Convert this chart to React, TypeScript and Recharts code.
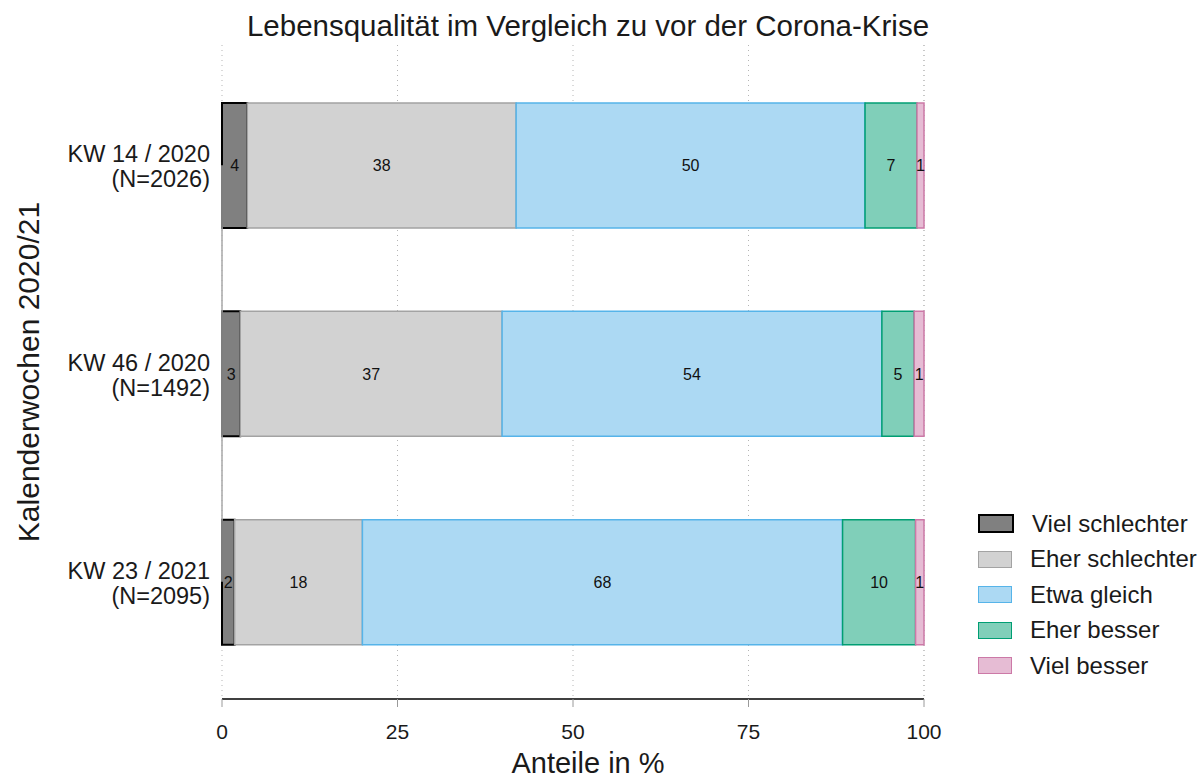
import React from 'react';
import {
  BarChart,
  Bar,
  XAxis,
  YAxis,
  CartesianGrid,
  Legend,
  LabelList,
  ReferenceLine
} from 'recharts';

// Kalenderwochen (Kategorien) und Fallzahlen
const weeks = ['KW 14 / 2020', 'KW 46 / 2020', 'KW 23 / 2021'];
const sampleSizes = ['(N=2026)', '(N=1492)', '(N=2095)'];

// Anteile in % je Antwortkategorie
const vielSchlechter = [3.6, 2.6, 1.8];
const eherSchlechter = [38.3, 37.3, 18.2];
const etwaGleich = [49.7, 54.1, 68.4];
const eherBesser = [7.4, 4.6, 10.4];
const vielBesser = [1.0, 1.4, 1.2];

const xTicks = [0, 25, 50, 75, 100];

const series = [
  { key: 'vielSchlechter', name: 'Viel schlechter', fill: '#808080', stroke: '#000000', width: 2 },
  { key: 'eherSchlechter', name: 'Eher schlechter', fill: '#d2d2d2', stroke: '#a3a3a3', width: 1.5 },
  { key: 'etwaGleich', name: 'Etwa gleich', fill: '#acd9f3', stroke: '#56b4e9', width: 1.5 },
  { key: 'eherBesser', name: 'Eher besser', fill: '#80cfb9', stroke: '#009e73', width: 1.5 },
  { key: 'vielBesser', name: 'Viel besser', fill: '#e6bcd4', stroke: '#cc79a7', width: 1.5 }
];

const data = weeks.map((kw, i) => ({
  kw,
  vielSchlechter: vielSchlechter[i],
  eherSchlechter: eherSchlechter[i],
  etwaGleich: etwaGleich[i],
  eherBesser: eherBesser[i],
  vielBesser: vielBesser[i]
}));

const FONT = '"Liberation Sans", Arial, Helvetica, sans-serif';

const WeekTick = (props: any) => {
  const { x, y, payload } = props;
  const i = weeks.indexOf(payload.value);
  return (
    <text x={x} y={y} textAnchor="end" fontSize={23.5} fill="#1a1a1a" fontFamily={FONT}>
      <tspan x={x} dy={-3}>{payload.value}</tspan>
      <tspan x={x} dy={25}>{sampleSizes[i]}</tspan>
    </text>
  );
};

const LegendBox = () => (
  <div style={{ fontFamily: FONT }}>
    {series.map((s) => (
      <div key={s.key} style={{ display: 'flex', alignItems: 'center', height: 35.5 }}>
        <span
          style={{
            display: 'inline-block',
            width: 32,
            height: 15,
            background: s.fill,
            border: `${s.width}px solid ${s.stroke}`,
            marginRight: 18
          }}
        />
        <span style={{ fontSize: 24, color: '#1a1a1a' }}>{s.name}</span>
      </div>
    ))}
  </div>
);

export default function App() {
  return (
    <div style={{ position: 'absolute', left: 0, top: 0, width: 1204, height: 780, background: '#fff', fontFamily: FONT }}>
      <div
        style={{
          position: 'absolute',
          top: 8,
          left: 588 - 400,
          width: 800,
          textAlign: 'center',
          fontSize: 29.5,
          color: '#1a1a1a',
          lineHeight: '36px'
        }}
      >
        Lebensqualität im Vergleich zu vor der Corona-Krise
      </div>
      <BarChart
        width={1204}
        height={780}
        data={data}
        layout="vertical"
        margin={{ top: 45, right: 280, bottom: 0, left: 0 }}
        style={{ fontFamily: FONT }}
      >
        <CartesianGrid horizontal={false} stroke="#b5b5b5" strokeDasharray="1 4" />
        <XAxis
          type="number"
          domain={[0, 100]}
          ticks={xTicks}
          height={81}
          axisLine={{ stroke: '#000', strokeWidth: 1.5 }}
          tickLine={{ stroke: '#9a9a9a' }}
          tickSize={8}
          tickMargin={17}
          tick={{ fontSize: 21, fill: '#1a1a1a' }}
          label={{ value: 'Anteile in %', position: 'insideBottom', offset: 7, dx: 15, fontSize: 29, fill: '#1a1a1a' }}
        />
        <YAxis
          type="category"
          dataKey="kw"
          width={222}
          axisLine={false}
          tickLine={false}
          tickSize={0}
          tickMargin={12}
          padding={{ top: 16, bottom: 13 }}
          tick={<WeekTick />}
          label={{
            value: 'Kalenderwochen 2020/21',
            angle: -90,
            position: 'insideLeft',
            offset: 28,
            fontSize: 30,
            fill: '#1a1a1a',
            style: { textAnchor: 'middle' }
          }}
        />
        {series.map((s) => (
          <Bar
            key={s.key}
            dataKey={s.key}
            name={s.name}
            stackId="a"
            fill={s.fill}
            stroke={s.stroke}
            strokeWidth={s.width}
            barSize={125}
            isAnimationActive={false}
          >
            <LabelList
              dataKey={s.key}
              position="center"
              formatter={(v: any) => Math.round(Number(v))}
              fontSize={16}
              fill="#111"
            />
          </Bar>
        ))}
        <ReferenceLine
          segment={[{ x: 0, y: weeks[0] }, { x: 0, y: weeks[weeks.length - 1] }]}
          stroke="#a8a8a8"
          strokeWidth={1.5}
        />
        <Legend
          layout="horizontal"
          verticalAlign="middle"
          align="center"
          content={<LegendBox />}
          wrapperStyle={{ left: 978, top: 506, width: 226, height: 180 }}
        />
      </BarChart>
    </div>
  );
}
